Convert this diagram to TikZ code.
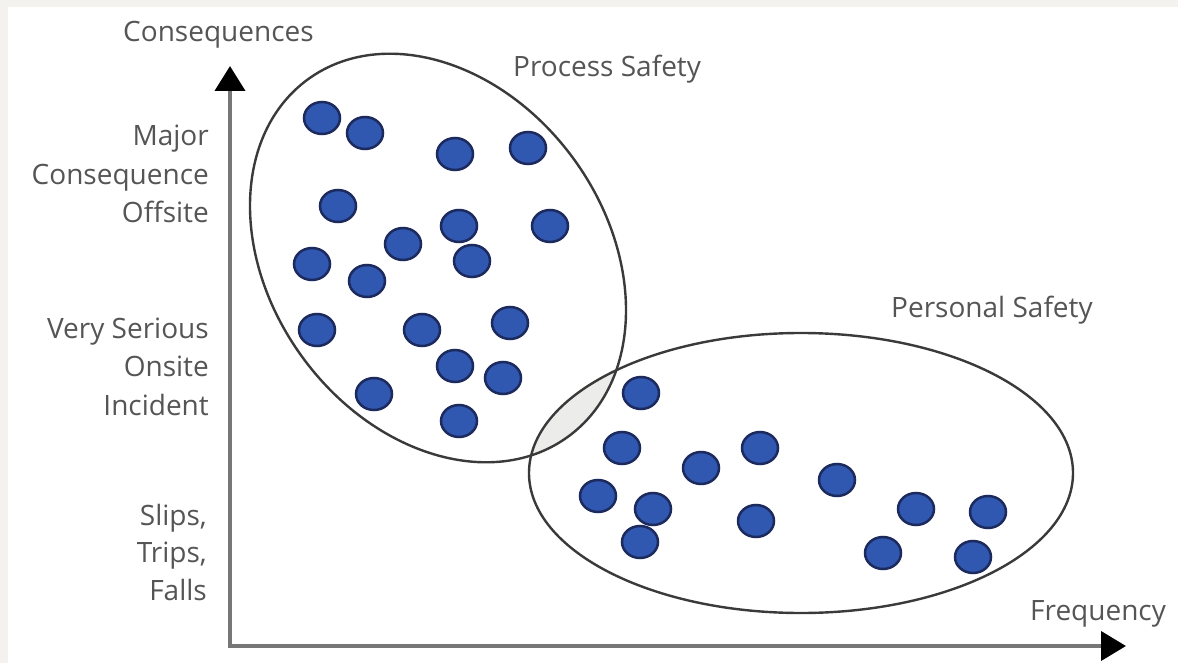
\documentclass[tikz,border=0pt]{standalone}
\usepackage{fontspec}
\setmainfont{Open Sans}
\usetikzlibrary{shapes.geometric,arrows.meta}
\definecolor{bgstrip}{HTML}{F3F2EE}
\definecolor{txt}{HTML}{555555}
\definecolor{dotfill}{HTML}{3058B0}
\definecolor{dotedge}{HTML}{1C2A5E}
\definecolor{ringcol}{HTML}{3A3A3A}
\definecolor{lens}{HTML}{ECEDEA}
\definecolor{axiscol}{HTML}{777777}
\tikzset{
  dot/.style={ellipse, fill=dotfill, draw=dotedge, line width=2.5pt,
    minimum width=36pt, minimum height=32pt, inner sep=0pt},
  ring/.style={draw=ringcol, line width=2.4pt},
  lbl/.style={text=txt, font=\fontsize{28}{38}\selectfont, inner sep=0pt},
  axisline/.style={draw=axiscol, line width=4pt,
    {Triangle[length=25pt,width=30pt,color=black]}-{Triangle[length=25pt,width=29pt,color=black]}}
}
\begin{document}
\begin{tikzpicture}[x=1pt,y=-1pt]
\useasboundingbox (0,0) rectangle (1178,663);
\fill[white] (0,0) rectangle (1178,663);
\fill[bgstrip] (0,0) rectangle (1178,7);
\fill[bgstrip] (0,0) rectangle (8,663);
% lens
\begin{scope}
  \clip[rotate around={-54:(438,258)}] (438,258) ellipse [x radius=221pt, y radius=168pt];
  \fill[lens] (801,473) ellipse [x radius=272pt, y radius=140pt];
\end{scope}
% ellipses
\draw[ring, rotate around={-54:(438,258)}] (438,258) ellipse [x radius=221pt, y radius=168pt];
\draw[ring] (801,473) ellipse [x radius=272pt, y radius=140pt];
% axes
\coordinate (ytop) at (230,66);
\coordinate (orig) at (230,646);
\coordinate (xend) at (1126,646);
\draw[axisline] (ytop) -- (orig) -- (xend);
% labels
\node[lbl, anchor=base west] (cons) at (123,42) {Consequences};
\node[lbl, anchor=base west] (proc) at (513,77) {Process Safety};
\node[lbl, anchor=base west] (pers) at (891,317) {Personal Safety};
\node[lbl, anchor=base west] (freq) at (1030,620) {Frequency};
\node[lbl, anchor=base east] (m1) at (209,146) {Major};
\node[lbl, anchor=base east] (m2) at (209,185) {Consequence};
\node[lbl, anchor=base east] (m3) at (209,223) {Offsite};
\node[lbl, anchor=base east] (v1) at (209,338) {Very Serious};
\node[lbl, anchor=base east] (v2) at (209,376) {Onsite};
\node[lbl, anchor=base east] (v3) at (209,415) {Incident};
\node[lbl, anchor=base east] (s1) at (207,525) {Slips,};
\node[lbl, anchor=base east] (s2) at (207,562) {Trips,};
\node[lbl, anchor=base east] (s3) at (207,600) {Falls};
% process dots
\node[dot] (p1) at (322,118) {};
\node[dot] (p2) at (365,133) {};
\node[dot] (p3) at (455,154) {};
\node[dot] (p4) at (528,148) {};
\node[dot] (p5) at (338,206) {};
\node[dot] (p6) at (459,226) {};
\node[dot] (p7) at (550,226) {};
\node[dot] (p8) at (403,244) {};
\node[dot] (p9) at (472,261) {};
\node[dot] (p10) at (312,264) {};
\node[dot] (p11) at (367,281) {};
\node[dot] (p12) at (317,330) {};
\node[dot] (p13) at (422,330) {};
\node[dot] (p14) at (510,323) {};
\node[dot] (p15) at (455,366) {};
\node[dot] (p16) at (503,378) {};
\node[dot] (p17) at (374,394) {};
\node[dot] (p18) at (459,421) {};
% personal dots
\node[dot] (q1) at (641,393) {};
\node[dot] (q2) at (622,448) {};
\node[dot] (q3) at (701,468) {};
\node[dot] (q4) at (760,448) {};
\node[dot] (q5) at (837,480) {};
\node[dot] (q6) at (598,496) {};
\node[dot] (q7) at (653,509) {};
\node[dot] (q8) at (640,542) {};
\node[dot] (q9) at (756,521) {};
\node[dot] (q10) at (916,509) {};
\node[dot] (q11) at (988,512) {};
\node[dot] (q12) at (883,553) {};
\node[dot] (q13) at (973,557) {};
\end{tikzpicture}
\end{document}
